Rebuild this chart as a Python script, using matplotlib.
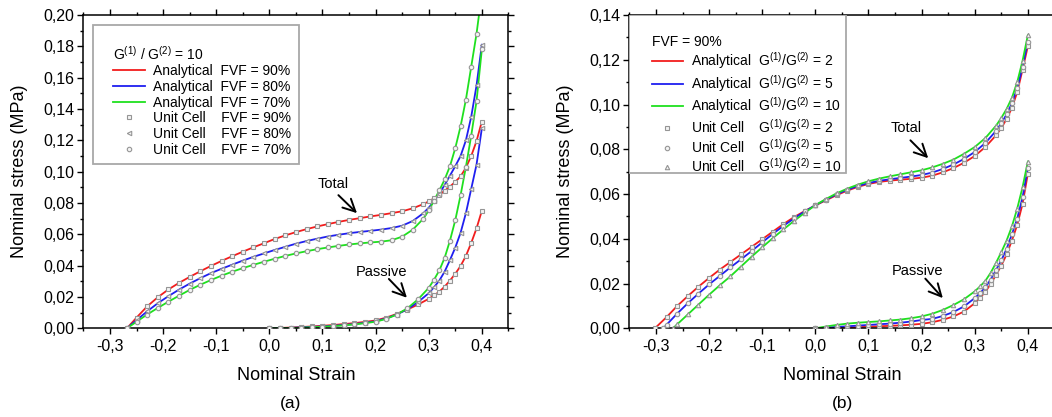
"""
Nominal stress vs nominal strain: analytical model against unit-cell results.
(a) G1/G2 = 10 for three fibre volume fractions
(b) FVF = 90 % for three stiffness ratios
"""
import numpy as np
import matplotlib.pyplot as plt
from matplotlib.ticker import MultipleLocator, FuncFormatter
from matplotlib.patches import Rectangle

plt.rcParams["font.family"] = ["Liberation Sans", "DejaVu Sans"]
plt.rcParams["mathtext.fontset"] = "custom"
plt.rcParams["mathtext.rm"] = "Liberation Sans"
plt.rcParams["mathtext.it"] = "Liberation Sans:italic"
plt.rcParams["mathtext.bf"] = "Liberation Sans:bold"

# ──────────────────────────────────────────────────────────────────────────────
# Data
# ──────────────────────────────────────────────────────────────────────────────
colors = ["#f21d1d", "#1f1ff0", "#1fe01f"]

# ---- panel (a): G(1)/G(2) = 10 ----
fvf_labels = ["90%", "80%", "70%"]
a_markers = ["s", "<", "o"]

a_total_strain = [-0.268, -0.25, -0.23, -0.21, -0.19, -0.17, -0.15, -0.13, -0.11,
                  -0.09, -0.07, -0.05, -0.03, -0.01, 0.01, 0.03, 0.05, 0.07, 0.09,
                  0.11, 0.13, 0.15, 0.17, 0.19, 0.21, 0.23, 0.25, 0.27, 0.29, 0.30,
                  0.31, 0.32, 0.33, 0.34, 0.35, 0.36, 0.37, 0.38, 0.39, 0.40]
a_total_fvf90 = [0.0, 0.0068, 0.0140, 0.0198, 0.0248, 0.0290, 0.0328, 0.0364, 0.0398,
                 0.0430, 0.0460, 0.0489, 0.0517, 0.0543, 0.0570, 0.0593, 0.0614, 0.0633,
                 0.0650, 0.0665, 0.0679, 0.0692, 0.0703, 0.0714, 0.0724, 0.0735, 0.0747,
                 0.0766, 0.0793, 0.0810, 0.0830, 0.0852, 0.0878, 0.0905, 0.0935, 0.0970,
                 0.1025, 0.1100, 0.1195, 0.1320]
a_total_fvf80 = [0.0, 0.0052, 0.0108, 0.0160, 0.0205, 0.0247, 0.0285, 0.0320, 0.0352,
                 0.0380, 0.0406, 0.0432, 0.0456, 0.0478, 0.0500, 0.0520, 0.0540, 0.0557,
                 0.0572, 0.0586, 0.0597, 0.0607, 0.0615, 0.0622, 0.0630, 0.0640, 0.0655,
                 0.0685, 0.0735, 0.0770, 0.0810, 0.0860, 0.0915, 0.0975, 0.1035, 0.1100,
                 0.1200, 0.1350, 0.1550, 0.1810]
a_total_fvf70 = [0.0, 0.0042, 0.0088, 0.0130, 0.0170, 0.0208, 0.0245, 0.0278, 0.0308,
                 0.0336, 0.0361, 0.0384, 0.0405, 0.0425, 0.0444, 0.0462, 0.0478, 0.0492,
                 0.0505, 0.0516, 0.0526, 0.0535, 0.0542, 0.0548, 0.0553, 0.0562, 0.0585,
                 0.0630, 0.0700, 0.0752, 0.0815, 0.0880, 0.0950, 0.1035, 0.1150, 0.1290,
                 0.1460, 0.1670, 0.1880, 0.2140]

passive_strain = [0.00, 0.02, 0.04, 0.06, 0.08, 0.10, 0.12, 0.14, 0.16, 0.18, 0.20,
                  0.22, 0.24, 0.26, 0.28, 0.30, 0.31, 0.32, 0.33, 0.34, 0.35, 0.36,
                  0.37, 0.38, 0.39, 0.40]
a_passive_fvf90 = [0.0, 0.0002, 0.0005, 0.0008, 0.0012, 0.0016, 0.0021, 0.0027, 0.0033,
                   0.0041, 0.0050, 0.0068, 0.0092, 0.0120, 0.0152, 0.0188, 0.0210, 0.0234,
                   0.0266, 0.0305, 0.0348, 0.0398, 0.0462, 0.0545, 0.0638, 0.0750]
a_passive_fvf80 = [0.0, 0.0001, 0.0003, 0.0006, 0.0009, 0.0012, 0.0016, 0.0021, 0.0027,
                   0.0035, 0.0045, 0.0063, 0.0088, 0.0122, 0.0168, 0.0224, 0.0262, 0.0305,
                   0.0362, 0.0436, 0.0515, 0.0610, 0.0735, 0.0890, 0.1045, 0.1276]
a_passive_fvf70 = [0.0, 0.0001, 0.0002, 0.0004, 0.0007, 0.0010, 0.0014, 0.0019, 0.0025,
                   0.0033, 0.0042, 0.0060, 0.0088, 0.0128, 0.0185, 0.0258, 0.0310, 0.0370,
                   0.0450, 0.0560, 0.0690, 0.0850, 0.1030, 0.1230, 0.1450, 0.1780]

# ---- panel (b): FVF = 90 % ----
ratio_labels = ["2", "5", "10"]
b_markers = ["s", "o", "^"]

b_grid = [-0.28, -0.26, -0.24, -0.22, -0.20, -0.18, -0.16, -0.14, -0.12, -0.10,
          -0.08, -0.06, -0.04, -0.02, 0.00, 0.02, 0.04, 0.06, 0.08, 0.10, 0.12,
          0.14, 0.16, 0.18, 0.20, 0.22, 0.24, 0.26, 0.28, 0.30, 0.32, 0.34, 0.35,
          0.36, 0.37, 0.38, 0.39, 0.40]
b_total_strain_g2 = [-0.302] + b_grid
b_total_g2 = [0.0, 0.0050, 0.0100, 0.0144, 0.0186, 0.0225, 0.0262, 0.0296, 0.0330,
              0.0364, 0.0398, 0.0432, 0.0466, 0.0497, 0.0524, 0.0549, 0.0572, 0.0595,
              0.0615, 0.0632, 0.0645, 0.0654, 0.0660, 0.0664, 0.0668, 0.0673, 0.0682,
              0.0697, 0.0716, 0.0740, 0.0770, 0.0810, 0.0862, 0.0895, 0.0935, 0.0985,
              0.1055, 0.1155, 0.1260]
b_total_strain_g5 = [-0.286] + b_grid
b_total_g5 = [0.0, 0.0016, 0.0066, 0.0112, 0.0155, 0.0196, 0.0234, 0.0272, 0.0308,
              0.0345, 0.0384, 0.0422, 0.0458, 0.0491, 0.0522, 0.0550, 0.0575, 0.0599,
              0.0619, 0.0636, 0.0649, 0.0659, 0.0666, 0.0672, 0.0678, 0.0685, 0.0696,
              0.0712, 0.0732, 0.0757, 0.0788, 0.0828, 0.0882, 0.0916, 0.0956, 0.1006,
              0.1073, 0.1168, 0.1280]
b_total_strain_g10 = [-0.268] + b_grid[1:]
b_total_g10 = [0.0, 0.0018, 0.0062, 0.0106, 0.0150, 0.0192, 0.0232, 0.0276, 0.0320,
               0.0362, 0.0403, 0.0442, 0.0480, 0.0516, 0.0550, 0.0578, 0.0603, 0.0624,
               0.0642, 0.0657, 0.0669, 0.0679, 0.0688, 0.0697, 0.0706, 0.0719, 0.0735,
               0.0754, 0.0780, 0.0810, 0.0850, 0.0905, 0.0940, 0.0980, 0.1030, 0.1100,
               0.1195, 0.1310]

b_passive_g2 = [0.0, 0.0001, 0.0002, 0.0003, 0.0005, 0.0007, 0.0009, 0.0011, 0.0013,
                0.0016, 0.0020, 0.0027, 0.0038, 0.0053, 0.0075, 0.0112, 0.0136, 0.0163,
                0.0198, 0.0238, 0.0280, 0.0330, 0.0392, 0.0462, 0.0555, 0.0690]
b_passive_g5 = [0.0, 0.0003, 0.0006, 0.0009, 0.0012, 0.0015, 0.0018, 0.0021, 0.0025,
                0.0030, 0.0037, 0.0042, 0.0055, 0.0073, 0.0098, 0.0135, 0.0157, 0.0183,
                0.0218, 0.0260, 0.0303, 0.0355, 0.0420, 0.0490, 0.0585, 0.0715]
b_passive_g10 = [0.0, 0.0008, 0.0015, 0.0021, 0.0025, 0.0028, 0.0031, 0.0035, 0.0039,
                 0.0045, 0.0053, 0.0065, 0.0082, 0.0104, 0.0130, 0.0165, 0.0187, 0.0212,
                 0.0248, 0.0292, 0.0340, 0.0392, 0.0455, 0.0535, 0.0630, 0.0745]


# ──────────────────────────────────────────────────────────────────────────────
# Helpers
# ──────────────────────────────────────────────────────────────────────────────
def comma_fmt(decimals):
    def fmt(v, _pos):
        if abs(v) < 1e-9:
            v = 0.0
        return f"{v:.{decimals}f}".replace(".", ",")
    return fmt


def style_axes(ax, ymax):
    ax.set_xlim(-0.35, 0.45)
    ax.set_ylim(0, ymax)
    ax.xaxis.set_major_locator(MultipleLocator(0.1))
    ax.xaxis.set_minor_locator(MultipleLocator(0.05))
    ax.yaxis.set_major_locator(MultipleLocator(0.02))
    ax.yaxis.set_minor_locator(MultipleLocator(0.01))
    ax.xaxis.set_major_formatter(FuncFormatter(comma_fmt(1)))
    ax.yaxis.set_major_formatter(FuncFormatter(comma_fmt(2)))
    ax.tick_params(which="both", direction="out", top=True, right=True,
                   width=1.0, labelsize=11.5)
    ax.tick_params(which="major", length=4.2)
    ax.tick_params(which="minor", length=2.2)
    ax.tick_params(axis="x", pad=3.5)
    ax.tick_params(axis="y", pad=2.5)
    for s in ax.spines.values():
        s.set_linewidth(1.1)
    ax.set_xlabel("Nominal Strain", fontsize=13)
    ax.set_ylabel("Nominal stress (MPa)", fontsize=13)
    ax.xaxis.set_label_coords(0.5, -0.125)
    ax.yaxis.set_label_coords(-0.13, 0.5)


def draw_panel(ax, totals, passives, labels, markers):
    lines, marks = [], []
    for (xs, ys), yp, c, (lab_line, _), m in zip(totals, passives, colors, labels, markers):
        ln, = ax.plot(xs, ys, color=c, lw=1.3, label=lab_line, zorder=2)
        ax.plot(passive_strain, yp, color=c, lw=1.3, zorder=2)
        lines.append(ln)
    for (xs, ys), yp, c, (_, lab_mark), m in zip(totals, passives, colors, labels, markers):
        kw = dict(ls="none", marker=m, ms=3.2, mfc="#f4f4f4", mec="#959595", mew=0.8, zorder=3)
        mk, = ax.plot(xs, ys, label=lab_mark, **kw)
        ax.plot(passive_strain, yp, **kw)
        marks.append(mk)
    return lines + marks


def arrow_note(ax, text, text_xy, tail, head):
    ax.text(*text_xy, text, ha="center", va="center", fontsize=10.5)
    ax.annotate("", xy=head, xytext=tail,
                arrowprops=dict(arrowstyle="->", color="k", lw=1.4,
                                mutation_scale=22, shrinkA=0, shrinkB=0))


# ──────────────────────────────────────────────────────────────────────────────
# Figure
# ──────────────────────────────────────────────────────────────────────────────
W, H = 1052, 417
fig = plt.figure(figsize=(W / 100, H / 100), dpi=100)
ax_a = fig.add_axes([83.4 / W, (H - 328.3) / H, 425 / W, 313.3 / H])
ax_b = fig.add_axes([629.4 / W, (H - 328.3) / H, 425 / W, 313.3 / H])

# ─── panel (a) ────────────────────────────────────────────────────────────────
a_totals = [(a_total_strain, a_total_fvf90), (a_total_strain, a_total_fvf80),
            (a_total_strain, a_total_fvf70)]
a_passives = [a_passive_fvf90, a_passive_fvf80, a_passive_fvf70]
a_labels = [(f"Analytical  FVF = {f}", f"Unit Cell    FVF = {f}") for f in fvf_labels]
h_a = draw_panel(ax_a, a_totals, a_passives, a_labels, a_markers)
style_axes(ax_a, 0.20)

ax_a.add_patch(Rectangle((0.0226, 0.5244), 0.4847, 0.4436, transform=ax_a.transAxes,
                         fc="white", ec="#a8a8a8", lw=1.3, zorder=4))
ax_a.legend(handles=h_a, loc="upper left", bbox_to_anchor=(0.0696, 0.905),
            borderaxespad=0, borderpad=0, frameon=False,
            title="G$^{(1)}$ / G$^{(2)}$ = 10", alignment="left",
            fontsize=10, title_fontsize=10, handlelength=2.3, handletextpad=0.57,
            labelspacing=0.12, numpoints=1).set_zorder(5)

arrow_note(ax_a, "Total", (0.1205, 0.0921), (0.1300, 0.0850), (0.1650, 0.0735))
arrow_note(ax_a, "Passive", (0.2117, 0.0361), (0.2250, 0.0315), (0.2590, 0.0195))

# ─── panel (b) ────────────────────────────────────────────────────────────────
b_totals = [(b_total_strain_g2, b_total_g2), (b_total_strain_g5, b_total_g5),
            (b_total_strain_g10, b_total_g10)]
b_passives = [b_passive_g2, b_passive_g5, b_passive_g10]
b_labels = [(f"Analytical  G$^{{(1)}}$/G$^{{(2)}}$ = {r}",
             f"Unit Cell    G$^{{(1)}}$/G$^{{(2)}}$ = {r}") for r in ratio_labels]
h_b = draw_panel(ax_b, b_totals, b_passives, b_labels, b_markers)
style_axes(ax_b, 0.14)

ax_b.add_patch(Rectangle((0.0, 0.4955), 0.509, 0.5045, transform=ax_b.transAxes,
                         fc="white", ec="#a8a8a8", lw=1.3, zorder=4))
ax_b.legend(handles=h_b, loc="upper left", bbox_to_anchor=(0.0525, 0.937),
            borderaxespad=0, borderpad=0, frameon=False,
            title="FVF = 90%", alignment="left",
            fontsize=10, title_fontsize=10, handlelength=2.25, handletextpad=0.6,
            labelspacing=0.12, numpoints=1).set_zorder(5)

arrow_note(ax_b, "Total", (0.1718, 0.0895), (0.1790, 0.0840), (0.2125, 0.0760))
arrow_note(ax_b, "Passive", (0.1930, 0.0257), (0.2070, 0.0222), (0.2400, 0.0135))

fig.text(291 / W, 1 - 403.3 / H, "(a)", ha="center", va="center", fontsize=12.5)
fig.text(842.4 / W, 1 - 403.3 / H, "(b)", ha="center", va="center", fontsize=12.5)

fig.savefig("out.png", dpi=100)
